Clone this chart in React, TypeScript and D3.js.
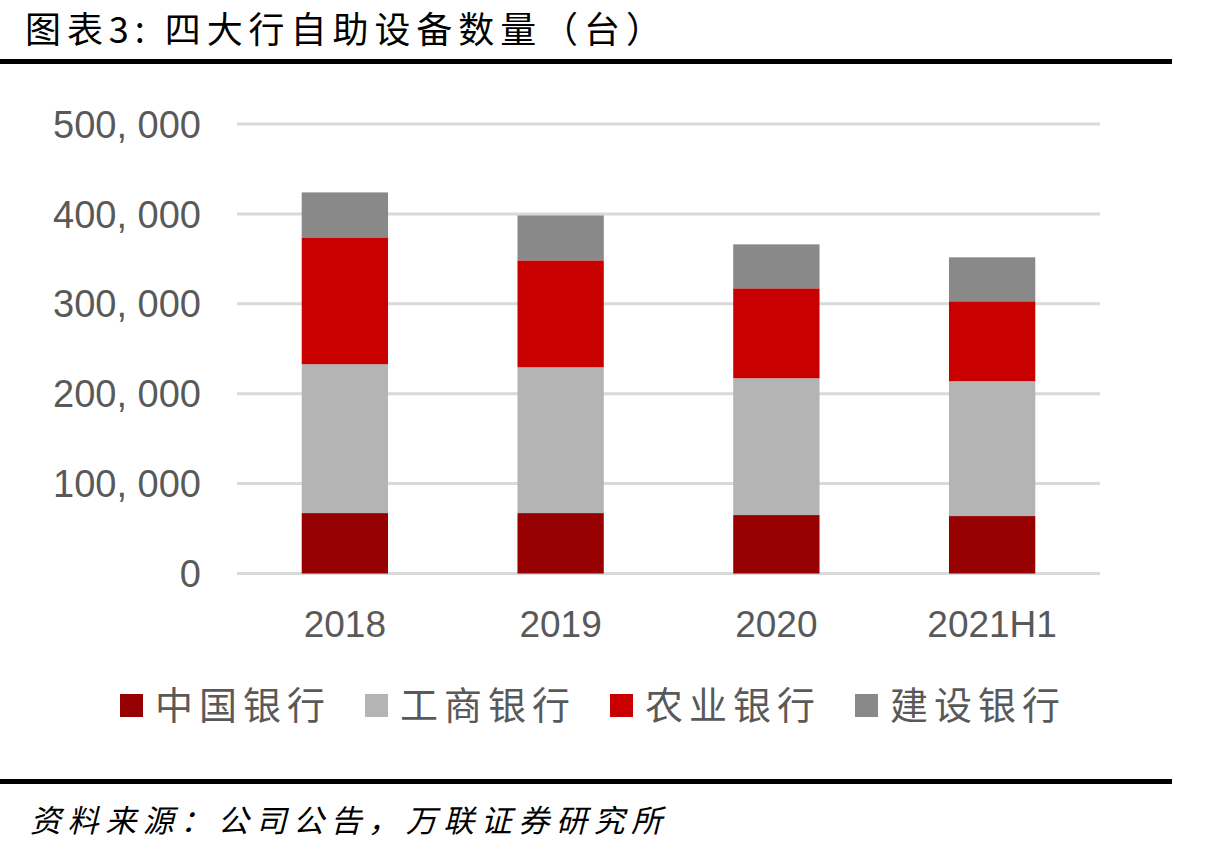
import React from "react";
import * as d3 from "d3";

const categories = ["2018", "2019", "2020", "2021H1"];
const seriesNames = ["中国银行", "工商银行", "农业银行", "建设银行"];
const boc = [67200, 67200, 65000, 63900];
const icbc = [165600, 162200, 152200, 150000];
const abc = [141100, 118900, 100000, 88900];
const ccb = [50000, 50000, 48900, 48900];
const yTicks = [0, 100000, 200000, 300000, 400000, 500000];
const colors = ["#960000", "#b4b4b4", "#c80000", "#898989"];

const W = 1213;
const H = 852;
const CJK = '"Noto Sans CJK SC", "Noto Sans", sans-serif';
const LATIN = '"Liberation Sans", Arial, sans-serif';

export default function App() {
  const x = d3.scaleBand<string>().domain(categories).range([237, 1100]).paddingInner(0.6).paddingOuter(0.3);
  const y = d3.scaleLinear().domain([0, 500000]).range([573.5, 124]);

  const rows = categories.map((c, i) => ({
    cat: c,
    "中国银行": boc[i],
    "工商银行": icbc[i],
    "农业银行": abc[i],
    "建设银行": ccb[i],
  }));
  const stacked = d3.stack<any>().keys(seriesNames)(rows);
  const fmt = (v: number) => d3.format(",")(v).replace(/,/g, ", ");

  const legendX0 = 120;
  const legendStep = 245;

  return (
    <svg width={W} height={H} style={{ position: "absolute", left: 0, top: 0, background: "#fff" }}>
      <rect x={0} y={0} width={W} height={H} fill="#fff" />
      <text x={25} y={43} fontFamily={CJK} fontSize={36} fill="#000" textLength={637} lengthAdjust="spacing">
        图表3: 四大行自助设备数量（台）
      </text>
      <rect x={0} y={59} width={1172} height={5} fill="#000" />

      {yTicks.map((t) => (
        <g key={t}>
          <line x1={237} x2={1100} y1={y(t)} y2={y(t)} stroke="#d9d9d9" strokeWidth={3} />
          <text x={201} y={y(t)} dy="0.36em" textAnchor="end" fontFamily={LATIN} fontSize={38} fill="#595959">
            {fmt(t)}
          </text>
        </g>
      ))}

      {stacked.map((s, si) => (
        <g key={s.key} fill={colors[si]}>
          {s.map((d, i) => (
            <rect
              key={i}
              x={x(categories[i])}
              width={x.bandwidth()}
              y={y(d[1])}
              height={y(d[0]) - y(d[1])}
            />
          ))}
        </g>
      ))}

      {categories.map((c) => (
        <text
          key={c}
          x={(x(c) as number) + x.bandwidth() / 2}
          y={637}
          textAnchor="middle"
          fontFamily={LATIN}
          fontSize={37}
          fill="#595959"
        >
          {c}
        </text>
      ))}

      {seriesNames.map((n, i) => {
        const lx = legendX0 + i * legendStep;
        return (
          <g key={n}>
            <rect x={lx} y={694} width={23} height={23} fill={colors[i]} />
            <text x={lx + 35} y={719} fontFamily={CJK} fontSize={38} fill="#595959" textLength={170} lengthAdjust="spacing">
              {n}
            </text>
          </g>
        );
      })}

      <rect x={0} y={779} width={1172} height={5} fill="#000" />
      <text x={30} y={832} fontFamily={CJK} fontSize={31} fontStyle="italic" fill="#000" textLength={632} lengthAdjust="spacing">
        资料来源：公司公告，万联证券研究所
      </text>
    </svg>
  );
}
